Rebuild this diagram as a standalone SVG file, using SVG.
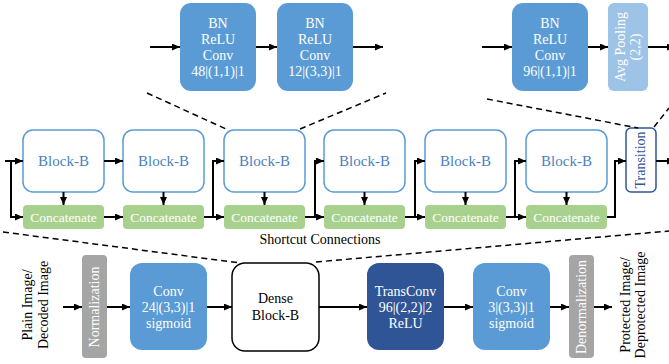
<svg xmlns="http://www.w3.org/2000/svg" width="669" height="364" viewBox="0 0 669 364" font-family="'Liberation Serif', 'DejaVu Serif', serif">
<defs>
<marker id="ah" markerUnits="userSpaceOnUse" markerWidth="8" markerHeight="7" refX="8" refY="3.5" orient="auto">
<path d="M0,0 L8,3.5 L0,7 z" fill="#000"/>
</marker>
<style>
text{font-size:14px;text-anchor:middle}
.blue{fill:#5b9bd5}
.lblue{fill:#9dc3e6}
.dblue{fill:#2f5597}
.gray{fill:#a5a5a5}
.green{fill:#a9d18e}
.blk{fill:#fff;stroke:#5b9bd5;stroke-width:1.5}
.wt{fill:#fff}
.ct{fill:#fff;font-size:13.5px}
.bt{fill:#4a7fc0;font-size:15px}
.k{fill:#000}
.ln{fill:none;stroke:#000;stroke-width:2}
.ar{fill:none;stroke:#000;stroke-width:2;marker-end:url(#ah)}
.dash{fill:none;stroke:#000;stroke-width:1.5;stroke-dasharray:6,4}
</style>
</defs>

<!-- Top left detail -->
<g id="top-conv1">
<rect class="blue" x="180" y="3" width="76" height="88" rx="11"/>
<text class="wt" x="218" y="28">BN</text>
<text class="wt" x="218" y="44">ReLU</text>
<text class="wt" x="218" y="60">Conv</text>
<text class="wt" x="218" y="76">48|(1,1)|1</text>
</g>
<g id="top-conv2">
<rect class="blue" x="277" y="3" width="76" height="88" rx="11"/>
<text class="wt" x="315" y="28">BN</text>
<text class="wt" x="315" y="44">ReLU</text>
<text class="wt" x="315" y="60">Conv</text>
<text class="wt" x="315" y="76">12|(3,3)|1</text>
</g>

<!-- Top right detail -->
<g id="top-conv3">
<rect class="blue" x="512" y="3" width="76" height="88" rx="11"/>
<text class="wt" x="550" y="28">BN</text>
<text class="wt" x="550" y="44">ReLU</text>
<text class="wt" x="550" y="60">Conv</text>
<text class="wt" x="550" y="76">96|(1,1)|1</text>
</g>
<g id="avgpool">
<rect class="lblue" x="608" y="3" width="40" height="88" rx="6"/>
<text class="wt" transform="translate(0,47) rotate(-90)" x="0" y="625">Avg Pooling</text>
<text class="wt" transform="translate(0,47) rotate(-90)" x="0" y="640">(2,2)</text>
</g>

<!-- Middle row -->
<g id="block1"><rect class="blk" x="23" y="130" width="81" height="62" rx="10"/><text class="bt" x="63.5" y="166">Block-B</text></g>
<g id="block2"><rect class="blk" x="123" y="130" width="81" height="62" rx="10"/><text class="bt" x="163.5" y="166">Block-B</text></g>
<g id="block3"><rect class="blk" x="224" y="130" width="81" height="62" rx="10"/><text class="bt" x="264.5" y="166">Block-B</text></g>
<g id="block4"><rect class="blk" x="324" y="130" width="81" height="62" rx="10"/><text class="bt" x="364.5" y="166">Block-B</text></g>
<g id="block5"><rect class="blk" x="425" y="130" width="81" height="62" rx="10"/><text class="bt" x="465.5" y="166">Block-B</text></g>
<g id="block6"><rect class="blk" x="526" y="130" width="81" height="62" rx="10"/><text class="bt" x="566.5" y="166">Block-B</text></g>

<g id="concat1"><rect class="green" x="23" y="205" width="81" height="24" rx="4"/><text class="ct" x="63.5" y="222">Concatenate</text></g>
<g id="concat2"><rect class="green" x="123" y="205" width="81" height="24" rx="4"/><text class="ct" x="163.5" y="222">Concatenate</text></g>
<g id="concat3"><rect class="green" x="224" y="205" width="81" height="24" rx="4"/><text class="ct" x="264.5" y="222">Concatenate</text></g>
<g id="concat4"><rect class="green" x="324" y="205" width="81" height="24" rx="4"/><text class="ct" x="364.5" y="222">Concatenate</text></g>
<g id="concat5"><rect class="green" x="425" y="205" width="81" height="24" rx="4"/><text class="ct" x="465.5" y="222">Concatenate</text></g>
<g id="concat6"><rect class="green" x="526" y="205" width="81" height="24" rx="4"/><text class="ct" x="566.5" y="222">Concatenate</text></g>

<g id="transition">
<rect x="626" y="128" width="30" height="64" rx="5" fill="#fff" stroke="#2f5597" stroke-width="1.5"/>
<text fill="#2f5597" transform="translate(0,160) rotate(-90)" x="0" y="645">Transition</text>
</g>

<g id="shortcut-label"><text class="k" x="320" y="244">Shortcut Connections</text></g>

<!-- Bottom row -->
<g id="input-label">
<text class="k" transform="translate(0,305) rotate(-90)" x="0" y="32">Plain Image/</text>
<text class="k" transform="translate(0,305) rotate(-90)" x="0" y="48">Decoded Image</text>
</g>
<g id="normalization">
<rect class="gray" x="82" y="255" width="25" height="103" rx="4"/>
<text class="wt" transform="translate(0,307) rotate(-90)" x="0" y="99">Normalization</text>
</g>
<g id="conv-in">
<rect class="blue" x="130" y="263" width="77" height="87" rx="12"/>
<text class="wt" x="168.5" y="296">Conv</text>
<text class="wt" x="168.5" y="312">24|(3,3)|1</text>
<text class="wt" x="168.5" y="328">sigmoid</text>
</g>
<g id="dense">
<rect x="232" y="263" width="87" height="88" rx="13" fill="#fff" stroke="#000" stroke-width="1.5"/>
<text class="k" x="275.5" y="303">Dense</text>
<text class="k" x="275.5" y="320">Block-B</text>
</g>
<g id="transconv">
<rect class="dblue" x="367" y="263" width="77" height="87" rx="12"/>
<text class="wt" x="405.5" y="296">TransConv</text>
<text class="wt" x="405.5" y="312">96|(2,2)|2</text>
<text class="wt" x="405.5" y="328">ReLU</text>
</g>
<g id="conv-out">
<rect class="blue" x="473" y="263" width="77" height="87" rx="12"/>
<text class="wt" x="511.5" y="296">Conv</text>
<text class="wt" x="511.5" y="312">3|(3,3)|1</text>
<text class="wt" x="511.5" y="328">sigmoid</text>
</g>
<g id="denormalization">
<rect class="gray" x="569" y="255" width="25" height="103" rx="4"/>
<text class="wt" transform="translate(0,307) rotate(-90)" x="0" y="586">Denormalization</text>
</g>
<g id="output-label">
<text class="k" transform="translate(0,305) rotate(-90)" x="0" y="630">Protected Image/</text>
<text class="k" transform="translate(0,305) rotate(-90)" x="0" y="645">Deprotected Image</text>
</g>

<!-- Connectors -->
<g id="connectors">
<line class="ar" x1="150" y1="47" x2="180" y2="47"/>
<line class="ar" x1="256" y1="47" x2="277" y2="47"/>
<line class="ar" x1="353" y1="47" x2="383" y2="47"/>
<line class="ar" x1="482" y1="47" x2="512" y2="47"/>
<line class="ar" x1="588" y1="47" x2="608" y2="47"/>
<line class="ar" x1="648" y1="47" x2="675" y2="47"/>
<line class="dash" x1="147" y1="93" x2="226" y2="129"/>
<line class="dash" x1="300" y1="129" x2="386" y2="93"/>
<line class="dash" x1="487" y1="99" x2="638" y2="128"/>
<line class="dash" x1="654" y1="127" x2="669" y2="108"/>
<line class="dash" x1="3" y1="232" x2="240" y2="263"/>
<line class="dash" x1="316" y1="262" x2="669" y2="231"/>
<line class="ar" x1="5" y1="161" x2="23" y2="161"/>
<polyline class="ar" points="11,161 11,217 23,217"/>
<line class="ar" x1="104" y1="161" x2="123" y2="161"/>
<line class="ar" x1="104" y1="217" x2="123" y2="217"/>
<line class="ar" x1="63.5" y1="192" x2="63.5" y2="205"/>
<line class="ar" x1="163.5" y1="192" x2="163.5" y2="205"/>
<line class="ar" x1="264.5" y1="192" x2="264.5" y2="205"/>
<line class="ar" x1="364.5" y1="192" x2="364.5" y2="205"/>
<line class="ar" x1="465.5" y1="192" x2="465.5" y2="205"/>
<line class="ar" x1="566.5" y1="192" x2="566.5" y2="205"/>
<line class="ar" x1="204" y1="217" x2="224" y2="217"/>
<polyline class="ar" points="213,217 213,161 224,161"/>
<line class="ar" x1="305" y1="217" x2="324" y2="217"/>
<polyline class="ar" points="315,217 315,161 324,161"/>
<line class="ar" x1="405" y1="217" x2="425" y2="217"/>
<polyline class="ar" points="415,217 415,161 425,161"/>
<line class="ar" x1="506" y1="217" x2="526" y2="217"/>
<polyline class="ar" points="515,217 515,161 526,161"/>
<polyline class="ar" points="607,217 615,217 615,161 626,161"/>
<line class="ar" x1="656" y1="161" x2="675" y2="161"/>
<line class="ar" x1="63" y1="307" x2="82" y2="307"/>
<line class="ar" x1="107" y1="307" x2="130" y2="307"/>
<line class="ar" x1="207" y1="307" x2="232" y2="307"/>
<line class="ar" x1="319" y1="307" x2="367" y2="307"/>
<line class="ar" x1="444" y1="307" x2="473" y2="307"/>
<line class="ar" x1="550" y1="307" x2="569" y2="307"/>
<line class="ar" x1="594" y1="307" x2="612" y2="307"/>
</g>
</svg>
